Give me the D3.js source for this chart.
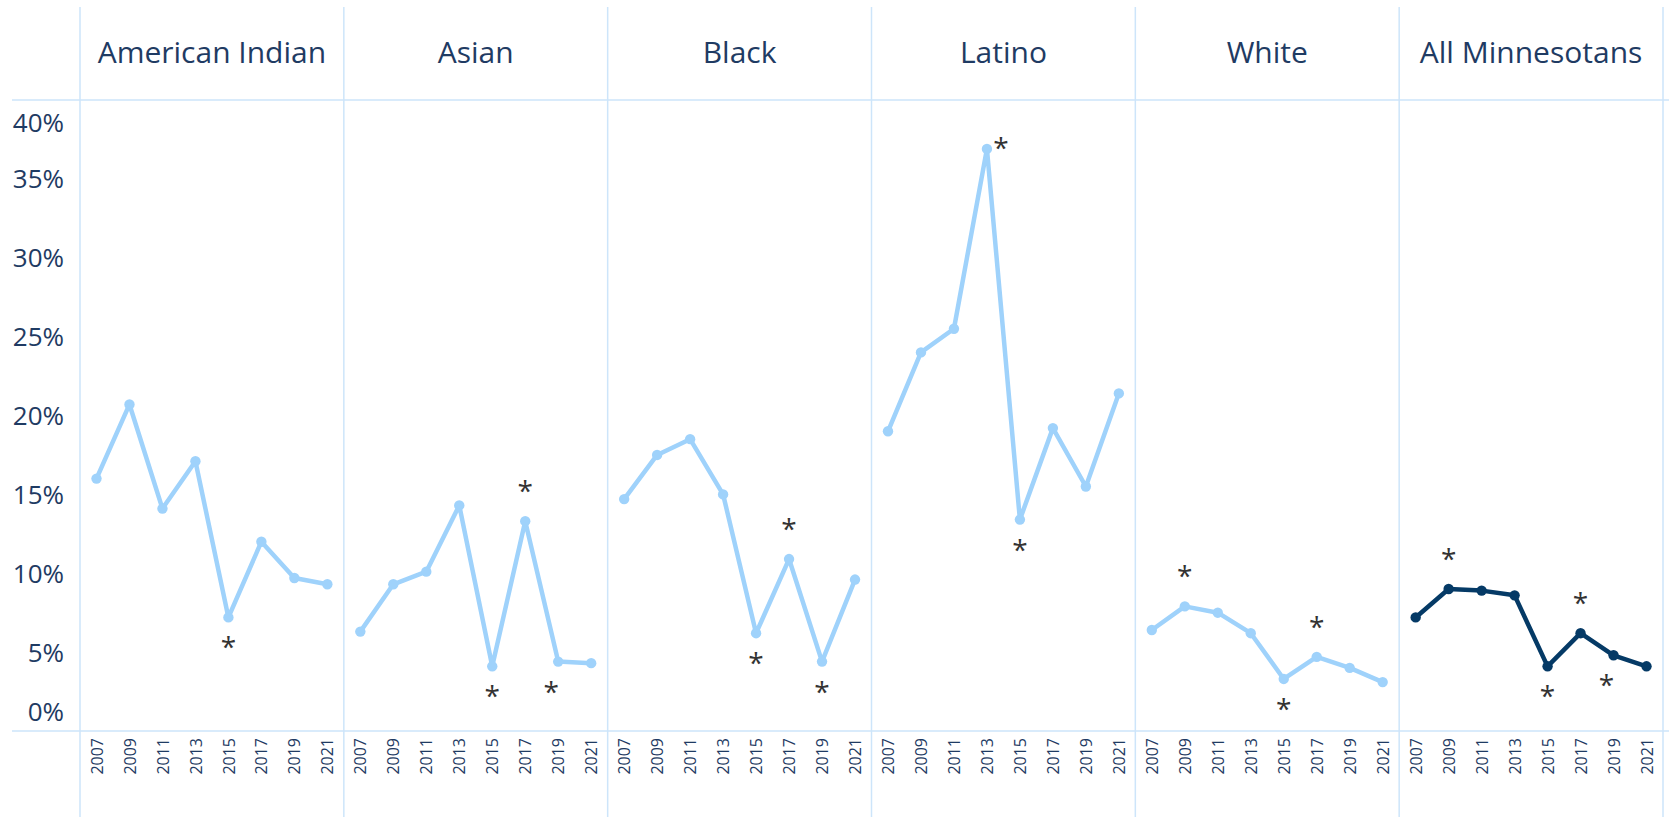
<!DOCTYPE html>
<html lang="en">
<head>
  <meta charset="UTF-8">
  <title>Minnesota by group</title>
  <style>
    body { margin: 0; background: #fff; }
    text { font-family: 'Open Sans', sans-serif; fill: #1f3b63; }
  </style>
</head>
<body>
  <svg id="svg" width="1669" height="817"></svg>
  <script src="https://d3js.org/d3.v7.min.js"></script>
  <script>
    const years = [2007, 2009, 2011, 2013, 2015, 2017, 2019, 2021]
    const groups = ['American Indian', 'Asian', 'Black', 'Latino', 'White', 'All Minnesotans']
    const yTicks = [0, 5, 10, 15, 20, 25, 30, 35, 40]

    const americanIndian = [16.0, 20.7, 14.1, 17.1, 7.2, 12.0, 9.7, 9.3]
    const asian = [6.3, 9.3, 10.1, 14.3, 4.1, 13.3, 4.4, 4.3]
    const black = [14.7, 17.5, 18.5, 15.0, 6.2, 10.9, 4.4, 9.6]
    const latino = [19.0, 24.0, 25.5, 36.9, 13.4, 19.2, 15.5, 21.4]
    const white = [6.4, 7.9, 7.5, 6.2, 3.3, 4.7, 4.0, 3.1]
    const allMinnesotans = [7.2, 9.0, 8.9, 8.6, 4.1, 6.2, 4.8, 4.1]

    // asterisk notes: [year, where]
    const americanIndianNotes = [[2015, 'below']]
    const asianNotes = [[2015, 'below'], [2017, 'above'], [2019, 'belowleft']]
    const blackNotes = [[2015, 'below'], [2017, 'above'], [2019, 'below']]
    const latinoNotes = [[2013, 'right'], [2015, 'below']]
    const whiteNotes = [[2009, 'above'], [2015, 'below'], [2017, 'above']]
    const allNotes = [[2009, 'above'], [2015, 'below'], [2017, 'above'], [2019, 'belowleft']]

    const series = [americanIndian, asian, black, latino, white, allMinnesotans]
    const notes = [americanIndianNotes, asianNotes, blackNotes, latinoNotes, whiteNotes, allNotes]

    const plotLeft = 80, plotRight = 1663, plotTop = 100, plotBottom = 731
    const panelW = (plotRight - plotLeft) / groups.length

    const svg = d3.select('#svg')

    const yScale = d3.scaleLinear().domain([0, 40]).range([plotBottom, plotTop])
    const panelScale = d3.scaleBand().domain(groups).range([plotLeft, plotRight])

    // grid frame
    const gridColor = '#cde5fa'
    svg.append('g')
      .selectAll('line')
      .data(d3.range(groups.length + 1))
      .join('line')
      .attr('x1', i => plotLeft + i * panelW)
      .attr('x2', i => plotLeft + i * panelW)
      .attr('y1', 7)
      .attr('y2', 817)
      .attr('stroke', gridColor)
      .attr('stroke-width', 1.5)

    svg.append('g')
      .selectAll('line')
      .data([40, 0])
      .join('line')
      .attr('x1', 12)
      .attr('x2', 1669)
      .attr('y1', d => yScale(d))
      .attr('y2', d => yScale(d))
      .attr('stroke', gridColor)
      .attr('stroke-width', 1.5)

    // y axis
    const yAxis = svg.append('g')
      .attr('transform', `translate(${plotLeft - 13},0)`)
      .call(d3.axisLeft(yScale).tickValues(yTicks).tickSize(0).tickFormat(d => d + '%'))
    yAxis.select('.domain').remove()
    yAxis.selectAll('text')
      .attr('fill', null)
      .style('font-size', '26px')
      .attr('dy', d => d === 40 ? '1.2em' : d === 0 ? '-0.4em' : '0.35em')

    groups.forEach((g, gi) => {
      const x0 = panelScale(g)
      const xScale = d3.scalePoint().domain(years).range([x0, x0 + panelW]).padding(0.5)
      const color = gi === groups.length - 1 ? '#053a66' : '#9fd2fb'
      const data = years.map((yr, i) => ({ year: yr, value: series[gi][i] }))

      svg.append('text')
        .attr('x', x0 + panelW / 2)
        .attr('y', 63)
        .attr('text-anchor', 'middle')
        .style('font-size', '30px')
        .text(g)

      const xAxis = svg.append('g')
        .attr('transform', `translate(0,${plotBottom + 7})`)
        .call(d3.axisBottom(xScale).tickSize(0).tickPadding(0))
      xAxis.select('.domain').remove()
      xAxis.selectAll('text')
        .attr('fill', null)
        .attr('transform', 'rotate(-90)')
        .attr('x', 0)
        .attr('y', 0)
        .attr('dy', '0.35em')
        .attr('text-anchor', 'end')
        .style('font-size', '16px')

      svg.append('path')
        .datum(data)
        .attr('fill', 'none')
        .attr('stroke', color)
        .attr('stroke-width', 4.5)
        .attr('stroke-linejoin', 'round')
        .attr('d', d3.line().x(d => xScale(d.year)).y(d => yScale(d.value)))

      svg.append('g')
        .selectAll('circle')
        .data(data)
        .join('circle')
        .attr('cx', d => xScale(d.year))
        .attr('cy', d => yScale(d.value))
        .attr('r', 5.2)
        .attr('fill', color)

      svg.append('g')
        .selectAll('text')
        .data(notes[gi])
        .join('text')
        .attr('x', d => {
          const px = xScale(d[0])
          if (d[1] === 'right') return px + 14
          if (d[1] === 'belowleft') return px - 7
          return px
        })
        .attr('y', d => {
          const py = yScale(series[gi][years.indexOf(d[0])])
          if (d[1] === 'above') return py - 20
          if (d[1] === 'right') return py + 9
          return py + 40
        })
        .attr('text-anchor', 'middle')
        .style('font-size', '28px')
        .style('fill', '#333')
        .text('*')
    })
  </script>
</body>
</html>
